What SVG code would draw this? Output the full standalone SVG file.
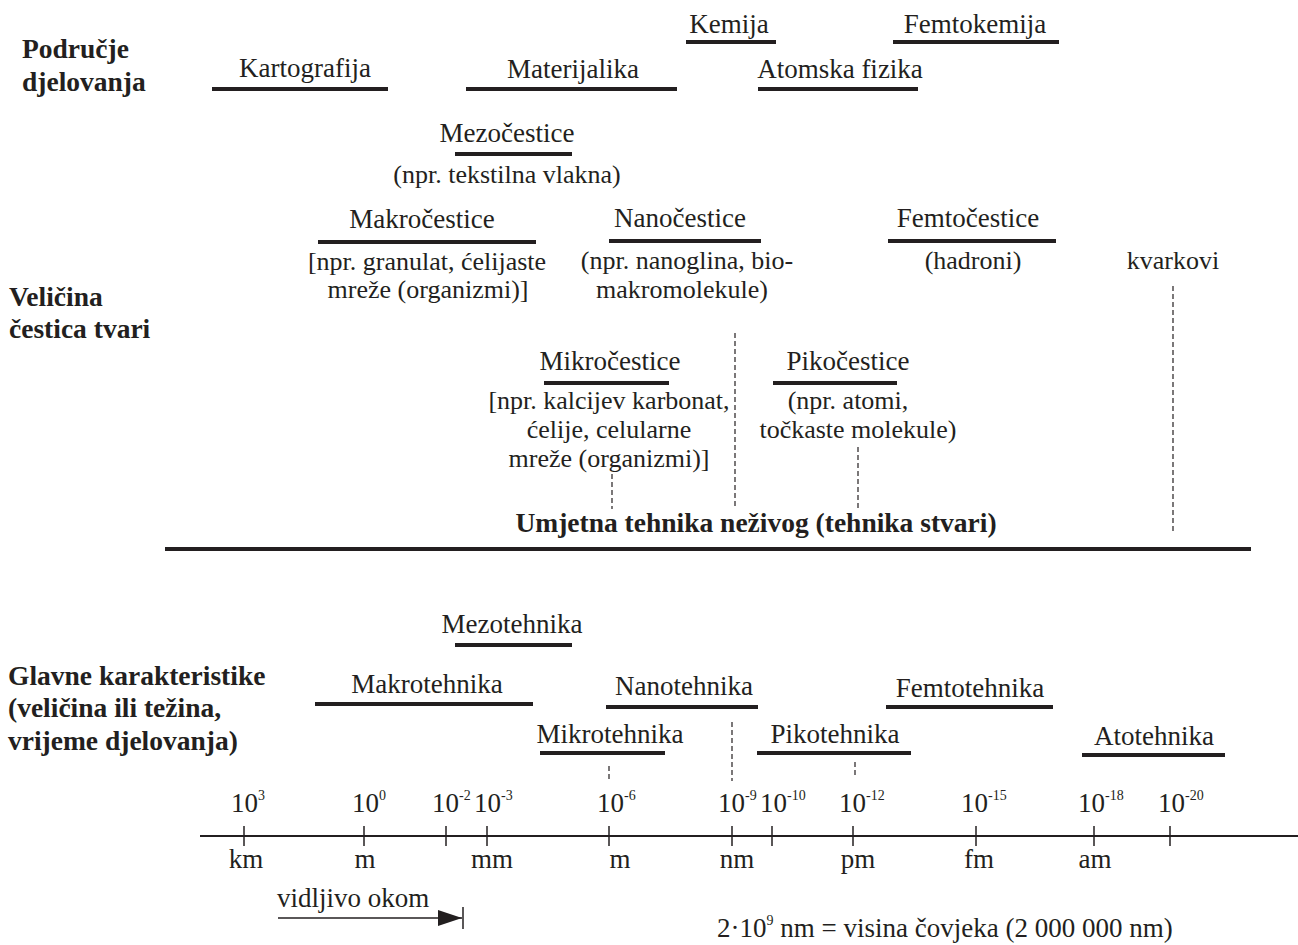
<svg xmlns="http://www.w3.org/2000/svg" width="1298" height="945" viewBox="0 0 1298 945">
<style>
text{font-family:"Liberation Serif","Times New Roman",serif;fill:#231f20;font-size:27px}
.b{font-weight:bold;font-size:27.5px}
.c{text-anchor:middle}
.n{font-size:26px}
.u{stroke:#231f20;stroke-width:4;fill:none}
.d{stroke:#231f20;stroke-width:1.2;stroke-dasharray:5 3;fill:none}
.t{stroke:#231f20;stroke-width:1.5}
.s{font-size:14px}
</style>
<defs>
<marker id="ah" markerWidth="24" markerHeight="16" refX="24" refY="8" orient="auto" markerUnits="userSpaceOnUse">
<path d="M0,0 L24,8 L0,16 Z" fill="#231f20"/>
</marker>
</defs>
<rect width="1298" height="945" fill="#fff"/>

<g id="label-podrucje"><text class="b" x="22" y="58">Područje</text><text class="b" x="22" y="91">djelovanja</text></g>
<g id="label-velicina"><text class="b" x="9" y="306">Veličina</text><text class="b" x="9" y="338">čestica tvari</text></g>
<g id="label-glavne"><text class="b" x="8" y="685">Glavne karakteristike</text><text class="b" x="8" y="717">(veličina ili težina,</text><text class="b" x="8" y="750">vrijeme djelovanja)</text></g>

<g id="kartografija"><text class="c" x="305" y="77">Kartografija</text><line class="u" x1="212" y1="89" x2="388" y2="89"/></g>
<g id="kemija"><text class="c" x="729" y="33">Kemija</text><line class="u" x1="686" y1="42" x2="776" y2="42"/></g>
<g id="materijalika"><text class="c" x="573" y="78">Materijalika</text><line class="u" x1="466" y1="89" x2="677" y2="89"/></g>
<g id="atomska"><text class="c" x="840" y="78">Atomska fizika</text><line class="u" x1="758" y1="89" x2="918" y2="89"/></g>
<g id="femtokemija"><text class="c" x="975" y="33">Femtokemija</text><line class="u" x1="893" y1="42" x2="1059" y2="42"/></g>

<g id="mezocestice"><text class="c" x="507" y="142">Mezočestice</text><line class="u" x1="455" y1="154" x2="572" y2="154"/><text class="c n" x="507" y="183">(npr. tekstilna vlakna)</text></g>
<g id="makrocestice"><text class="c" x="422" y="228">Makročestice</text><line class="u" x1="318" y1="242" x2="536" y2="242"/><text class="c n" x="427" y="270">[npr. granulat, ćelijaste</text><text class="c n" x="428" y="298">mreže (organizmi)]</text></g>
<g id="nanocestice"><text class="c" x="680" y="227">Nanočestice</text><line class="u" x1="609" y1="241" x2="761" y2="241"/><text class="c n" x="687" y="269">(npr. nanoglina, bio-</text><text class="c n" x="682" y="298">makromolekule)</text></g>
<g id="femtocestice"><text class="c" x="968" y="227">Femtočestice</text><line class="u" x1="888" y1="241" x2="1056" y2="241"/><text class="c n" x="973" y="269">(hadroni)</text></g>
<g id="kvarkovi"><text class="c n" x="1173" y="269">kvarkovi</text></g>
<g id="mikrocestice"><text class="c" x="610" y="370">Mikročestice</text><line class="u" x1="544" y1="383" x2="669" y2="383"/><text class="c n" x="609" y="409">[npr. kalcijev karbonat,</text><text class="c n" x="609" y="438">ćelije, celularne</text><text class="c n" x="609" y="467">mreže  (organizmi)]</text></g>
<g id="pikocestice"><text class="c" x="848" y="370">Pikočestice</text><line class="u" x1="773" y1="383" x2="897" y2="383"/><text class="c n" x="848" y="409">(npr. atomi,</text><text class="c n" x="858" y="438">točkaste molekule)</text></g>

<g id="umjetna"><text class="b c" x="756" y="532">Umjetna tehnika neživog (tehnika stvari)</text><line class="u" x1="165" y1="549" x2="1251" y2="549" stroke-width="4.5"/></g>

<g id="mezotehnika"><text class="c" x="512" y="633">Mezotehnika</text><line class="u" x1="455" y1="645" x2="572" y2="645"/></g>
<g id="makrotehnika"><text class="c" x="427" y="693">Makrotehnika</text><line class="u" x1="315" y1="704" x2="533" y2="704"/></g>
<g id="nanotehnika"><text class="c" x="684" y="695">Nanotehnika</text><line class="u" x1="606" y1="707" x2="758" y2="707"/></g>
<g id="femtotehnika"><text class="c" x="970" y="697">Femtotehnika</text><line class="u" x1="886" y1="707" x2="1053" y2="707"/></g>
<g id="mikrotehnika"><text class="c" x="610" y="743">Mikrotehnika</text><line class="u" x1="540" y1="753" x2="665" y2="753"/></g>
<g id="pikotehnika"><text class="c" x="835" y="743">Pikotehnika</text><line class="u" x1="757" y1="753" x2="911" y2="753"/></g>
<g id="atotehnika"><text class="c" x="1154" y="745">Atotehnika</text><line class="u" x1="1082" y1="755" x2="1225" y2="755"/></g>

<g id="connectors">
<line class="d" x1="1173" y1="286" x2="1173" y2="533"/>
<line class="d" x1="735" y1="333" x2="735" y2="509"/>
<line class="d" x1="612" y1="474" x2="612" y2="509"/>
<line class="d" x1="858" y1="447" x2="858" y2="509"/>
<line class="d" x1="609" y1="766" x2="609" y2="781"/>
<line class="d" x1="732" y1="722" x2="732" y2="781"/>
<line class="d" x1="855" y1="762" x2="855" y2="776"/>
<line x1="278" y1="918" x2="462" y2="918" stroke="#231f20" stroke-width="1.5" marker-end="url(#ah)"/>
<line class="t" x1="463" y1="907" x2="463" y2="929"/>
</g>

<g id="axis">
<line x1="200" y1="836" x2="1298" y2="836" stroke="#231f20" stroke-width="2.2"/>
<g class="t">
<line x1="244" y1="826" x2="244" y2="846"/>
<line x1="364" y1="826" x2="364" y2="846"/>
<line x1="446" y1="826" x2="446" y2="846"/>
<line x1="487" y1="826" x2="487" y2="846"/>
<line x1="609" y1="826" x2="609" y2="846"/>
<line x1="732" y1="826" x2="732" y2="846"/>
<line x1="772" y1="826" x2="772" y2="846"/>
<line x1="853" y1="826" x2="853" y2="846"/>
<line x1="976" y1="826" x2="976" y2="846"/>
<line x1="1094" y1="826" x2="1094" y2="846"/>
<line x1="1170" y1="826" x2="1170" y2="846"/>
</g>
<text x="231" y="812">10<tspan class="s" dy="-12">3</tspan></text>
<text x="352" y="812">10<tspan class="s" dy="-12">0</tspan></text>
<text x="432" y="812">10<tspan class="s" dy="-12">-2</tspan></text>
<text x="474" y="812">10<tspan class="s" dy="-12">-3</tspan></text>
<text x="597" y="812">10<tspan class="s" dy="-12">-6</tspan></text>
<text x="718" y="812">10<tspan class="s" dy="-12">-9</tspan></text>
<text x="760" y="812">10<tspan class="s" dy="-12">-10</tspan></text>
<text x="839" y="812">10<tspan class="s" dy="-12">-12</tspan></text>
<text x="961" y="812">10<tspan class="s" dy="-12">-15</tspan></text>
<text x="1078" y="812">10<tspan class="s" dy="-12">-18</tspan></text>
<text x="1158" y="812">10<tspan class="s" dy="-12">-20</tspan></text>
<text class="c" x="246" y="868">km</text>
<text class="c" x="365" y="868">m</text>
<text class="c" x="492" y="868">mm</text>
<text class="c" x="620" y="868">m</text>
<text class="c" x="737" y="868">nm</text>
<text class="c" x="858" y="868">pm</text>
<text class="c" x="979" y="868">fm</text>
<text class="c" x="1095" y="868">am</text>
</g>

<g id="vidljivo"><text x="277" y="907">vidljivo okom</text></g>
<g id="note"><text x="717" y="937">2·10<tspan class="s" dy="-12">9</tspan><tspan dy="12"> nm = visina čovjeka (2 000 000 nm)</tspan></text></g>
</svg>
